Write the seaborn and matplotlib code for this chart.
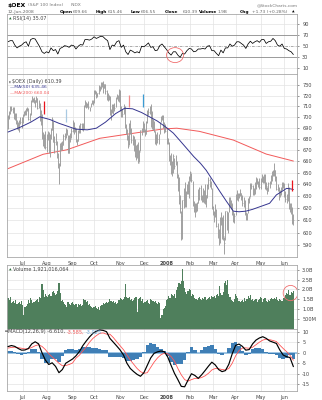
import numpy as np
import pandas as pd
import matplotlib
matplotlib.use("Agg")
import matplotlib.pyplot as plt
import seaborn as sns
from matplotlib.patches import Ellipse
from matplotlib.ticker import NullLocator, FixedLocator, FixedFormatter

sns.set_theme(style="white")
plt.rcParams["font.family"] = ["DejaVu Sans"]

# ---------------- data ----------------
holidays = ["2007-07-04", "2007-09-03", "2007-11-22", "2007-12-25", "2008-01-01",
            "2008-01-21", "2008-02-18", "2008-03-21", "2008-05-26"]
dates = pd.bdate_range("2007-06-13", "2008-06-12", freq="C", holidays=holidays)

close = [700.2,703.6,708.2,707.3,708.6,698.9,703.2,694.2,692.0,689.7,695.9,695.6,694.5,
 702.0,704.5,704.7,707.1,707.7,697.7,701.7,715.0,717.3,715.9,715.8,714.3,717.5,708.7,712.2,698.1,701.4,685.0,674.0,681.0,672.3,
 683.1,686.0,667.8,683.9,688.1,697.8,677.1,677.4,677.1,664.8,655.5,657.7,673.8,673.6,674.4,682.3,681.5,689.4,683.5,667.5,682.1,679.3,686.9,
 695.6,687.6,690.5,678.8,677.9,687.2,687.2,693.0,693.1,689.6,709.7,714.1,709.3,712.5,708.8,708.5,712.4,715.2,713.0,
 724.0,723.8,720.5,722.1,729.0,726.6,732.5,731.2,727.5,730.9,724.8,720.0,721.3,720.8,702.3,705.0,711.2,709.4,708.7,718.5,721.2,716.5,725.1,
 706.0,706.5,703.0,711.5,690.6,690.2,680.3,673.5,693.1,688.2,679.1,682.7,670.8,673.8,663.0,674.2,658.6,668.4,687.5,687.8,693.2,
 689.1,684.6,695.0,705.4,704.2,709.5,691.5,695.7,696.6,687.0,676.7,680.9,680.0,683.3,694.7,700.3,700.9,690.9,691.9,687.2,
 677.3,677.3,660.6,662.8,650.6,659.5,664.7,655.7,662.8,646.3,642.7,624.0,620.2,613.3,626.5,632.8,622.7,633.7,637.6,634.5,645.2,
 650.3,643.5,622.9,618.1,623.0,620.4,624.0,628.6,637.1,628.6,629.1,628.5,633.8,625.6,630.6,639.3,643.7,643.1,637.3,620.1,
 617.7,615.6,618.8,605.2,600.1,590.8,612.8,607.3,610.4,597.7,592.3,617.5,602.5,616.9,626.3,627.8,622.3,615.1,610.3,613.7,
 631.6,630.4,631.3,631.8,632.7,629.5,624.4,627.2,614.4,612.4,615.2,627.8,628.2,639.6,638.6,632.9,634.8,638.9,643.0,642.3,639.8,637.4,
 644.1,646.1,643.2,648.1,636.4,638.7,634.4,641.4,641.2,643.8,650.6,651.4,652.0,645.9,635.6,637.2,628.8,633.1,635.6,639.0,640.0,
 631.3,627.7,627.5,639.7,619.9,620.4,618.9,608.4,610.39]

low = [689,698,703,705,704,698,697,693,689,688,686,693,690,
 694,701,702,702,705,697,696,702,714,714,713,709,714,707,708,696,692,680,673,672,671,
 668,679,667,664,680,688,677,667,674,663,654,640,656,670,670,674,679,681,683,667,667,677,681,
 686,684,686,677,674,678,685,685,688,687,689,709,708,709,707,705,709,712,711,
 713,722,718,719,722,724,726,728,723,727,722,716,715,716,702,697,704,703,705,709,717,715,714,
 705,700,700,703,690,684,679,672,674,684,676,674,669,664,661,663,658,659,669,683,686,
 686,682,684,694,702,703,691,689,688,686,675,674,676,675,684,695,697,690,685,686,
 675,675,660,657,649,647,650,653,657,645,634,623,616,594,595,620,621,621,632,632,628,
 643,642,622,617,613,617,618,624,627,627,625,625,624,623,621,628,636,638,636,619,
 614,609,613,605,596,590,592,606,595,594,583,594,602,600,617,622,619,614,609,608,
 614,627,626,628,630,627,622,621,614,610,610,616,624,629,636,631,631,632,636,640,638,636,
 636,642,641,641,636,635,632,634,637,640,643,647,647,643,635,634,627,629,631,635,637,
 629,625,624,626,619,617,615,607,606.55]

high = [702,705,710,710,709,709,704,704,697,695,697,700,700,
 703,705,706,708,709,708,704,716,720,718,719,716,720,718,716,713,706,703,686,684,687,
 684,687,686,684,690,700,696,682,685,678,667,658,676,677,678,684,685,690,689,683,683,685,690,
 697,695,691,690,680,688,692,694,694,694,711,716,714,713,715,709,713,716,716,
 725,725,724,723,730,729,733,733,734,731,731,725,723,721,720,707,712,712,713,719,722,721,726,
 725,710,707,712,710,693,689,683,694,697,690,683,682,680,674,675,677,670,688,690,696,
 694,689,696,706,708,710,712,705,698,696,687,684,686,684,695,701,702,702,695,693,
 690,681,677,665,667,660,666,663,665,660,649,646,631,618,627,637,642,634,640,643,647,
 651,650,643,626,624,624,625,636,638,639,631,637,635,640,631,640,646,645,643,637,
 622,618,623,619,608,603,613,617,613,614,597,618,618,617,629,629,627,624,618,616,
 632,635,633,633,636,633,631,629,627,617,616,628,630,641,641,639,637,642,646,645,643,645,
 645,649,647,649,649,642,638,642,643,648,651,652,658,652,647,640,638,635,638,642,642,
 641,634,632,641,638,624,624,621,615.46]

volume_b = [1.55,1.45,1.60,1.30,1.35,1.40,1.30,1.45,1.25,1.30,1.35,1.25,1.40,
 1.20,0.70,1.10,1.15,1.25,1.45,1.30,1.55,1.45,1.30,1.35,1.40,1.45,1.50,1.35,1.60,1.55,2.25,1.95,1.60,1.75,
 1.65,1.60,1.70,1.75,1.65,1.85,1.90,1.80,1.70,1.75,1.90,2.30,1.80,1.40,1.45,1.35,1.25,1.20,1.10,1.35,1.25,1.20,1.30,
 1.35,1.25,1.20,1.25,1.10,1.25,1.20,1.25,1.15,1.20,1.50,1.45,1.35,1.40,1.20,1.25,1.15,1.10,1.05,
 1.10,1.15,1.05,1.00,1.10,0.95,1.15,1.20,1.30,1.25,1.30,1.35,1.30,1.35,1.50,1.40,1.35,1.40,1.30,1.35,1.25,1.30,1.45,
 1.55,1.50,1.45,1.50,1.60,2.25,1.60,1.55,1.60,1.45,1.50,1.40,1.45,1.55,1.60,0.85,1.50,1.55,1.60,1.40,1.50,
 1.30,1.35,1.40,1.45,1.30,1.25,1.50,1.45,1.40,1.35,1.40,1.30,1.25,1.35,1.30,0.55,0.70,1.00,1.05,1.15,
 1.45,1.50,1.65,1.55,1.75,1.70,1.65,1.75,1.55,1.95,2.10,2.30,2.25,2.40,3.05,2.40,2.05,1.85,1.75,1.90,2.00,
 1.95,1.65,1.75,1.70,1.55,1.50,1.45,1.55,1.60,1.50,1.45,1.55,1.50,1.60,1.45,1.50,1.55,1.60,1.50,1.65,
 1.60,1.65,1.55,1.70,1.75,1.65,2.15,1.80,1.70,1.85,2.30,2.40,2.20,2.45,1.75,1.60,1.45,1.40,1.35,1.50,
 1.75,1.65,1.55,1.40,1.35,1.40,1.45,1.35,1.55,1.40,1.50,1.65,1.55,1.70,1.45,1.50,1.40,1.45,1.50,1.35,1.45,1.50,
 1.60,1.55,1.35,1.50,1.55,1.40,1.35,1.45,1.40,1.50,1.55,1.50,1.55,1.50,1.60,1.45,1.40,1.50,1.45,1.40,1.55,
 1.55,1.70,1.80,1.75,1.95,1.70,1.85,1.80,1.92]

# RSI(14), read every 2nd session
rsi_vals = [58,60,60,52,47,50,52,56,58,50, 62,64,63,56,49,40,37,40,38,47,
 42,44,36,46,48,51,50,48,52,51, 45,50,53,52,62,62,61,63,67,64,
 66,68,67,63,60,44,52,51,58,60, 48,52,40,35,43,41,38,40,38,50,
 49,52,56,48,49,42,43,51,54,49, 44,38,34,40,40,34,30,37,36,42,
 46,45,40,41,45,45,46,45,50,51, 42,42,37,33,43,38,47,47,54,50,
 52,58,58,55,52,46,54,59,55,58, 60,57,62,62,55,58,59,64,60,52,
 50,54,46,45,42,40,35.07]

# MACD(12,26,9) and signal, read every 3rd session
macd_vals = [2.9,3.4,3.0,2.0,1.2,1.3,2.0,4.2,5.2,4.2, 0.0,-3.5,-5.6,-4.8,-6.5,-9.5,-8.0,-5.0,-4.0,-3.0,
 -1.5,0.5,3.3,5.5,7.5,9.2,10.2,10.8,10.6,10.0, 6.8,5.0,3.2,1.3,-1.1,-5.0,-7.5,-9.0,-10.3,-11.2,
 -9.5,-6.0,-2.5,-0.3,0.4,0.8,0.5,-2.0,-6.0,-9.8, -12.8,-16.0,-16.2,-13.0,-10.0,-10.8,-12.2,-10.5,-8.5,-6.4,
 -4.5,-5.8,-8.0,-9.0,-8.5,-5.5,-0.5,3.5,4.1,3.0, 1.2,1.5,4.2,6.0,7.0,7.6,6.8,5.6,5.0,4.4,
 1.3,-1.1,-1.9,-2.3,-6.61]
signal_vals = [2.2,2.5,2.6,2.4,2.1,1.8,1.8,2.5,3.3,3.8, 3.0,1.5,-0.5,-2.0,-3.5,-5.0,-6.2,-6.1,-5.6,-4.9,
 -2.6,-1.2,0.8,2.7,5.0,6.8,8.1,9.2,9.4,8.8, 8.8,7.2,5.2,3.3,1.4,-1.0,-3.5,-5.5,-7.5,-9.0,
 -9.8,-9.5,-7.0,-4.5,-2.5,-1.0,-0.2,-0.5,-1.8,-4.0, -7.5,-10.5,-12.8,-13.5,-12.8,-12.2,-12.2,-11.8,-11.0,-9.8,
 -8.2,-7.5,-7.6,-8.0,-8.2,-7.5,-5.0,-1.5,1.0,2.2, 2.3,2.1,2.6,3.8,5.0,6.0,6.4,6.2,5.8,5.3,
 3.6,2.0,0.5,-1.2,-3.585]

# moving averages read at sample sessions
ma50_idx = [0,10,20,28,37,45,52,60,70,78,86,95,103,110,118,125,132,140,146,152,158,164,170,175,
            181,187,193,199,204,210,216,222,231,237,242,246,250,252]
ma50_val = [686,690,695,700,697.5,694,691.5,688.6,688,689.5,695,703,708,707.5,704,700,696,690,685,678,671,664,
            658,652,643,634,625.5,617.5,617,617.5,619,621,624,631,634,636.5,636,635.46]
ma200_idx = [0,31,52,81,111,137,149,169,199,228,252]
ma200_val = [653.4,666,670,680.3,684.9,688.8,689.5,686.6,678.7,666.2,660.04]

month_labels = ["Jul", "Aug", "Sep", "Oct", "Nov", "Dec", "2008", "Feb", "Mar", "Apr", "May", "Jun"]

# annotation marks (session index, lower, upper price)
marks = [(32, 703, 715, "#e8141c"), (51, 695, 707, "#a9c9e2"), (107, 709, 721, "#f08a8a"),
         (119, 709, 722, "#3b9bd3"), (251, 634, 644, "#e8141c")]

# ---------------- frames ----------------
n = len(dates)
idx = np.arange(n)
df = pd.DataFrame({"i": idx, "close": close, "low": low, "high": high, "vol": volume_b})
rsi_df = pd.DataFrame({"i": np.arange(0, n, 2), "rsi": rsi_vals})
mdf = pd.DataFrame({"i": np.arange(0, n, 3), "macd": macd_vals, "signal": signal_vals})
mdf["hist"] = mdf["macd"] - mdf["signal"]
ma50 = pd.DataFrame({"i": ma50_idx, "v": ma50_val})
ma200 = pd.DataFrame({"i": ma200_idx, "v": ma200_val})

m = dates.to_period("M")
month_idx = [int(k) for k in idx[1:][m[1:] != m[:-1]]]

W, H = 322, 400
fig = plt.figure(figsize=(W / 100, H / 100), dpi=100)
fig.patch.set_facecolor("white")

def rect(x0, y0, x1, y1):
    return [x0 / W, 1 - y1 / H, (x1 - x0) / W, (y1 - y0) / H]

def ftext(x, y, s, **kw):
    kw.setdefault("va", "center")
    kw.setdefault("fontsize", 3.2)
    return fig.text(x / W, 1 - y / H, s, **kw)

ax_r = fig.add_axes(rect(7, 14, 297, 74))
ax_p = fig.add_axes(rect(7, 74, 297, 257))
ax_v = fig.add_axes(rect(7, 265, 297, 328.5))
ax_m = fig.add_axes(rect(7, 328.5, 297, 391))

GRID = "#e3e3e3"
TXT = "#444444"
for ax in (ax_r, ax_p, ax_v, ax_m):
    ax.set_facecolor("white")
    ax.set_xlim(-0.88, 255.2)
    for s in ax.spines.values():
        s.set_color("#a8a8a8")
        s.set_linewidth(0.6)
    ax.yaxis.tick_right()
    ax.tick_params(axis="y", labelsize=3.6, colors=TXT, length=1.2, width=0.4, pad=2.5)
    ax.tick_params(axis="x", labelsize=3.6, colors=TXT, length=0, pad=2.6)
    ax.set_xticks(month_idx)
    for mi in month_idx:
        ax.axvline(mi, color=GRID, lw=0.5, zorder=0)

# ---- RSI ----
ax_r.set_ylim(0, 108)
for lv in (10, 90):
    ax_r.axhline(lv, color=GRID, lw=0.5, zorder=0)
ax_r.axhline(70, color="#8a8a8a", lw=0.6, zorder=1)
ax_r.axhline(30, color="#8a8a8a", lw=0.6, zorder=1)
ax_r.axhline(50, color="#8a8a8a", lw=0.5, ls=(0, (4, 1.5, 1, 1.5)), zorder=1)
sns.lineplot(data=rsi_df, x="i", y="rsi", ax=ax_r, color="black", lw=0.55, legend=False)
ax_r.set_yticks([10, 30, 50, 70, 90])
ax_r.set_yticklabels(["10", "30", "50", "70", "90"])
ax_r.set_xticklabels([])
ax_r.set_xlabel(""); ax_r.set_ylabel("")
ax_r.add_patch(Ellipse((147.5, 34), 15, 27, fill=False, ec="#f07070", lw=0.6, zorder=5))

# ---- Price ----
ax_p.set_yscale("log")
ax_p.set_ylim(581, 741)
pticks = list(range(590, 731, 10))
ax_p.yaxis.set_major_locator(FixedLocator(pticks))
ax_p.yaxis.set_major_formatter(FixedFormatter([str(t) for t in pticks]))
ax_p.yaxis.set_minor_locator(NullLocator())
for t in pticks:
    ax_p.axhline(t, color=GRID, lw=0.5, zorder=0)
sns.lineplot(data=ma200, x="i", y="v", ax=ax_p, color="#f25a5a", lw=0.7, legend=False, zorder=2)
ax_p.vlines(df["i"], df["low"], df["high"], color="#9a9a9a", lw=0.65, zorder=3)
ax_p.hlines(df["close"], df["i"], df["i"] + 0.45, color="#9a9a9a", lw=0.45, zorder=3)
sns.lineplot(data=ma50, x="i", y="v", ax=ax_p, color="#35358f", lw=0.7, legend=False, zorder=4)
for (mi, lo_, hi_, c) in marks:
    ax_p.vlines(mi, lo_, hi_, color=c, lw=0.9, zorder=5)
ax_p.set_xticklabels(month_labels)
ax_p.get_xticklabels()[6].set_fontweight("bold")
ax_p.set_xlabel(""); ax_p.set_ylabel("")

# ---- Volume ----
ax_v.set_ylim(0, 3.24)
vt = [0.5, 1.0, 1.5, 2.0, 2.5, 3.0]
for t in vt:
    ax_v.axhline(t, color=GRID, lw=0.5, zorder=0)
ax_v.bar(df["i"], df["vol"], width=1.0, color="#4f7f5c", edgecolor="none", zorder=2)
ax_v.set_yticks(vt)
ax_v.set_yticklabels(["500M", "1.0B", "1.5B", "2.0B", "2.5B", "3.0B"])
ax_v.set_xticklabels([])
ax_v.set_xlabel(""); ax_v.set_ylabel("")
ax_v.add_patch(Ellipse((249.5, 1.81), 13, 0.78, fill=False, ec="#f07070", lw=0.6, zorder=5))

# ---- MACD ----
ax_m.set_ylim(-18.2, 11.5)
mt = [-15, -10, -5, 0, 5, 10]
for t in mt:
    ax_m.axhline(t, color=GRID, lw=0.5, zorder=0)
ax_m.bar(mdf["i"], mdf["hist"], width=3.0, color="#3f7fb6", edgecolor="none", zorder=2)
ax_m.axhline(0, color="#8dbbe0", lw=1.2, zorder=1)
sns.lineplot(data=mdf, x="i", y="signal", ax=ax_m, color="#ff5555", lw=0.6, legend=False, zorder=3)
sns.lineplot(data=mdf, x="i", y="macd", ax=ax_m, color="black", lw=0.85, legend=False, zorder=4)
ax_m.set_yticks(mt)
ax_m.set_yticklabels([str(t) for t in mt])
ax_m.set_xticklabels(month_labels)
ax_m.get_xticklabels()[6].set_fontweight("bold")
ax_m.set_xlabel(""); ax_m.set_ylabel("")

# ---------------- texts ----------------
ftext(8, 5, "$OEX", fontweight="bold", fontsize=4.4, color="black")
ftext(28, 5.3, "(S&P 100 Index)", color="#777777")
ftext(71, 5.3, "INDX", color="#777777")
ftext(298, 5, "@StockCharts.com", color="#777777", ha="right")
ftext(8, 11.7, "12-Jun-2008", color="#666666")
hdr = [(60, "Open", True), (72.5, "609.66", False), (96, "High", True), (107.5, "615.46", False),
       (131, "Low", True), (141, "606.55", False), (165, "Close", True), (183, "610.39", False),
       (199, "Volume", True), (218, "1.9B", False), (240, "Chg", True), (252, "+1.73 (+0.28%)", False)]
for x, s, b in hdr:
    ftext(x, 11.7, s, fontweight="bold" if b else "normal", color="black" if b else "#666666")
ftext(292, 11.7, "▲", color="black", fontsize=2.4)
ftext(9, 18.3, "▲", color="#2c6e3c", fontsize=2.4)
ftext(13, 18.3, "RSI(14) 35.07", color="#444444", fontsize=3.5)
ftext(9, 81.7, "▮", color="#777777", fontsize=2.4)
ftext(12.5, 81.7, "$OEX (Daily) 610.39", color="#444444", fontsize=3.5)
ftext(9.5, 87.3, "—MA(50) 635.46", color="#35358f", fontsize=3.2)
ftext(9.5, 93.3, "—MA(200) 660.04", color="#f25a5a", fontsize=3.2)
ftext(9, 269.7, "▲", color="#2c6e3c", fontsize=2.4)
ftext(13, 269.7, "Volume 1,921,016,064", color="#444444", fontsize=3.5)

# MACD legend pieces placed one after another
fig.canvas.draw()
rend = fig.canvas.get_renderer()
xcur = 5.0
for s, c in [("═MACD(12,26,9) -6.610,", "#444444"), ("-3.585,", "#f25a5a"), ("-3.025", "#6aa6d8")]:
    t = ftext(xcur, 332, s, color=c, fontsize=3.6)
    bb = t.get_window_extent(rend)
    xcur = bb.x1 + 1.5

fig.savefig("out.png", dpi=100, facecolor="white")
